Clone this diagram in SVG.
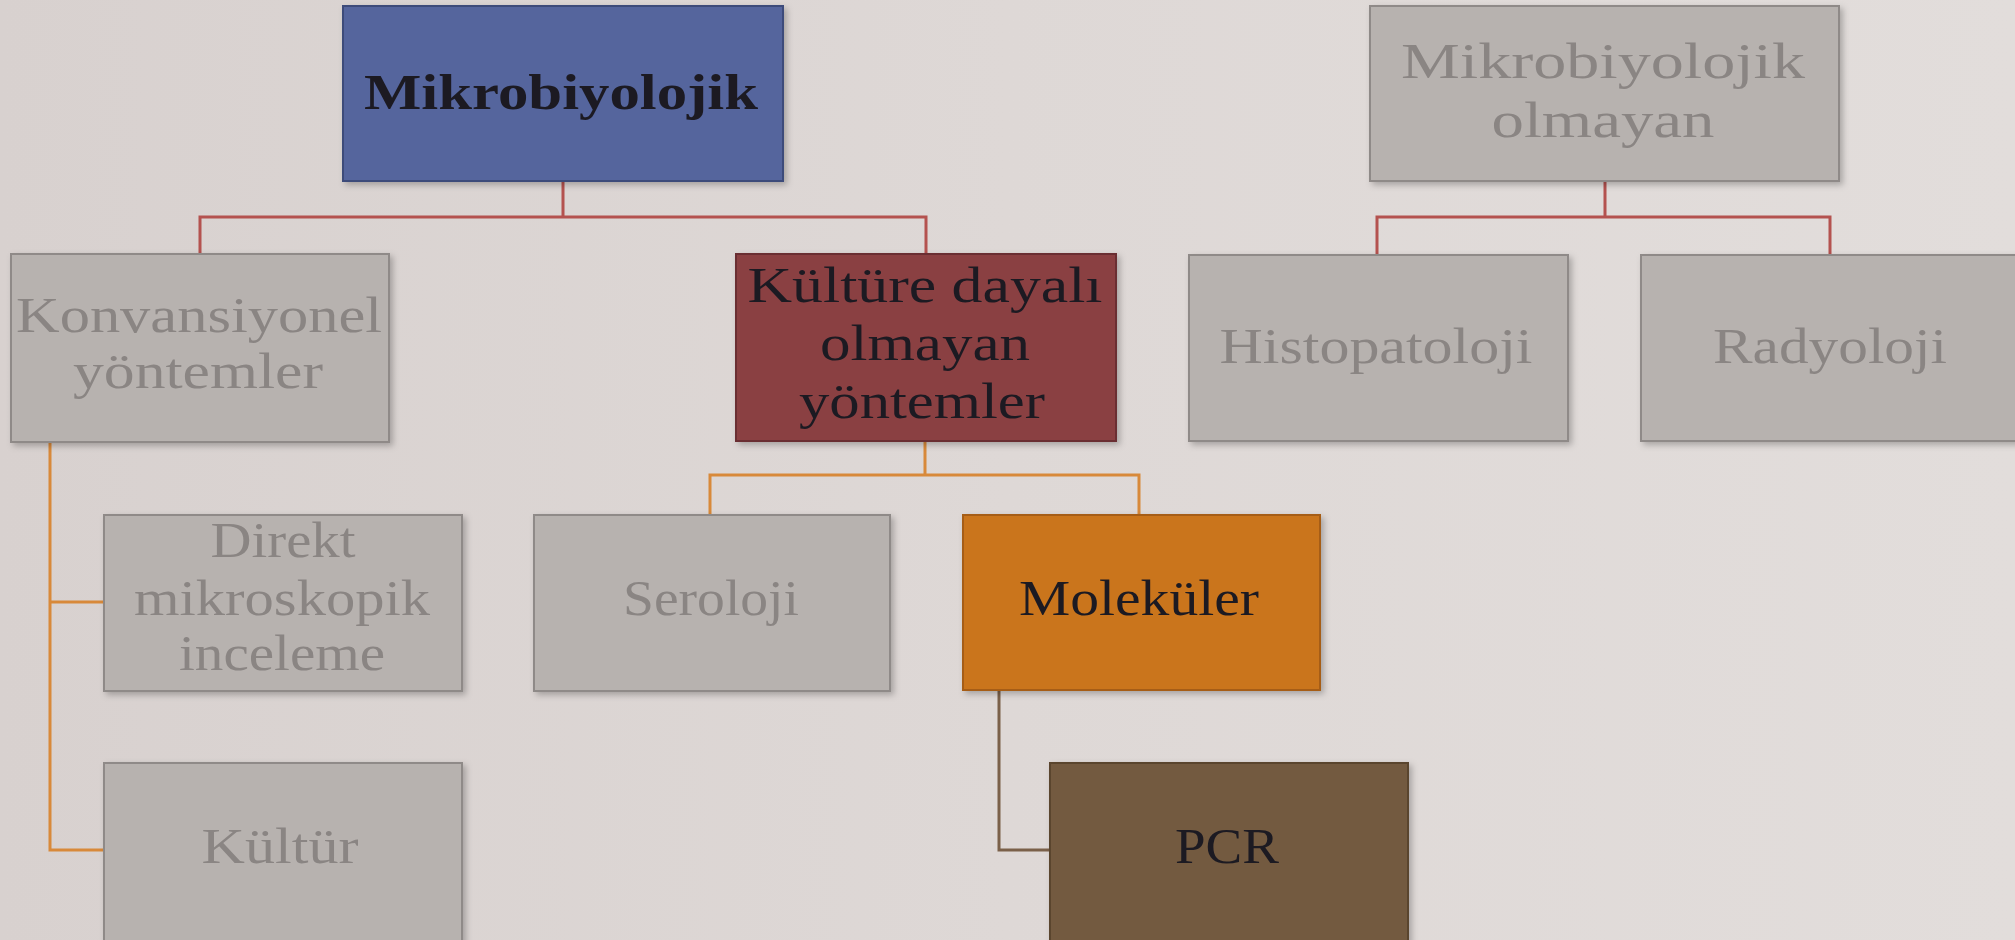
<svg xmlns="http://www.w3.org/2000/svg" width="2015" height="940" viewBox="0 0 2015 940">
<defs>
<linearGradient id="bg" x1="0" y1="0" x2="1" y2="0">
<stop offset="0" stop-color="#d8d1cf"/>
<stop offset="0.5" stop-color="#ded8d6"/>
<stop offset="1" stop-color="#e2dddb"/>
</linearGradient>
<filter id="sh" x="-5%" y="-5%" width="115%" height="115%">
<feDropShadow dx="3" dy="3" stdDeviation="3" flood-color="#000" flood-opacity="0.25"/>
</filter>
<style>
.box{filter:url(#sh);stroke-width:2}
.gray{fill:#b7b2af;stroke:#8f8a88}
.blue{fill:#55659d;stroke:#3e4b7a}
.red{fill:#8a3f43;stroke:#6a2d30}
.orange{fill:#ca741f;stroke:#a65d18}
.brown{fill:#735a3f;stroke:#5a452f}
text{font-family:"Liberation Serif","Times New Roman",serif;font-size:50px;text-anchor:middle}
.tg{fill:#8a8583}
.td{fill:#1c1a22}
.c{fill:none;stroke-width:3}
.cr{stroke:#b4524f}
.co{stroke:#d8893a}
.cb{stroke:#7a6049}
</style>
</defs>
<rect width="2015" height="940" fill="url(#bg)"/>
<g id="connectors">
<path class="c cr" d="M563 181 V217 M200 254 V217 H926 V254"/>
<path class="c cr" d="M1605 181 V217 M1377 254 V217 H1830 V254"/>
<path class="c co" d="M925 442 V475 M710 515 V475 H1139 V515"/>
<path class="c co" d="M50 442 V850 H104 M50 602 H104"/>
<path class="c cb" d="M999 690 V850 H1050"/>
</g>
<g id="n-mikro">
<rect class="box blue" x="343" y="6" width="440" height="175"/>
<text class="td" x="561" y="109" font-weight="bold" font-size="56" textLength="394" lengthAdjust="spacingAndGlyphs">Mikrobiyolojik</text>
</g>
<g id="n-mikro-olmayan">
<rect class="box gray" x="1370" y="6" width="469" height="175"/>
<text class="tg" x="1603" y="78" textLength="404" lengthAdjust="spacingAndGlyphs">Mikrobiyolojik</text>
<text class="tg" x="1603" y="137" textLength="223" lengthAdjust="spacingAndGlyphs">olmayan</text>
</g>
<g id="n-konv">
<rect class="box gray" x="11" y="254" width="378" height="188"/>
<text class="tg" x="199" y="332" textLength="366" lengthAdjust="spacingAndGlyphs">Konvansiyonel</text>
<text class="tg" x="198" y="388" textLength="250" lengthAdjust="spacingAndGlyphs">yöntemler</text>
</g>
<g id="n-kulture">
<rect class="box red" x="736" y="254" width="380" height="187"/>
<text class="td" x="925" y="302" textLength="355" lengthAdjust="spacingAndGlyphs">Kültüre dayalı</text>
<text class="td" x="925" y="360" textLength="210" lengthAdjust="spacingAndGlyphs">olmayan</text>
<text class="td" x="922" y="418" textLength="246" lengthAdjust="spacingAndGlyphs">yöntemler</text>
</g>
<g id="n-histo">
<rect class="box gray" x="1189" y="255" width="379" height="186"/>
<text class="tg" x="1376" y="363" textLength="313" lengthAdjust="spacingAndGlyphs">Histopatoloji</text>
</g>
<g id="n-radyo">
<rect class="box gray" x="1641" y="255" width="390" height="186"/>
<text class="tg" x="1830" y="363" textLength="234" lengthAdjust="spacingAndGlyphs">Radyoloji</text>
</g>
<g id="n-direkt">
<rect class="box gray" x="104" y="515" width="358" height="176"/>
<text class="tg" x="283" y="557" textLength="145" lengthAdjust="spacingAndGlyphs">Direkt</text>
<text class="tg" x="282" y="615" textLength="296" lengthAdjust="spacingAndGlyphs">mikroskopik</text>
<text class="tg" x="282" y="670" textLength="206" lengthAdjust="spacingAndGlyphs">inceleme</text>
</g>
<g id="n-seroloji">
<rect class="box gray" x="534" y="515" width="356" height="176"/>
<text class="tg" x="711" y="615" textLength="176" lengthAdjust="spacingAndGlyphs">Seroloji</text>
</g>
<g id="n-molekuler">
<rect class="box orange" x="963" y="515" width="357" height="175"/>
<text class="td" x="1139" y="615" textLength="240" lengthAdjust="spacingAndGlyphs">Moleküler</text>
</g>
<g id="n-kultur">
<rect class="box gray" x="104" y="763" width="358" height="190"/>
<text class="tg" x="280" y="863" textLength="157" lengthAdjust="spacingAndGlyphs">Kültür</text>
</g>
<g id="n-pcr">
<rect class="box brown" x="1050" y="763" width="358" height="190"/>
<text class="td" x="1227" y="863" textLength="104" lengthAdjust="spacingAndGlyphs">PCR</text>
</g>
</svg>
